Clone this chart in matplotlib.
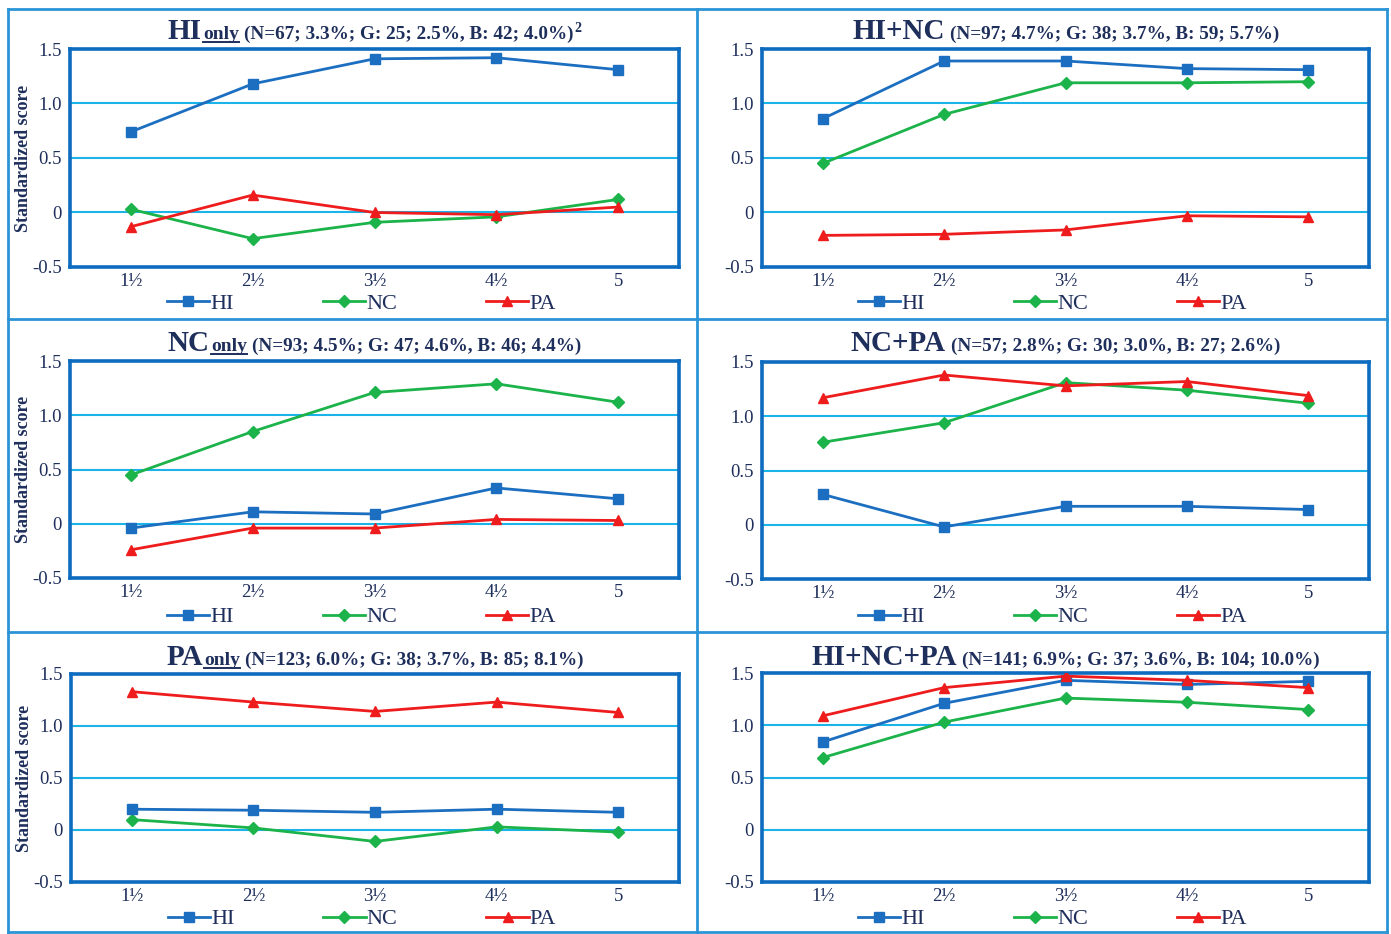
import matplotlib
matplotlib.use("Agg")
import matplotlib.pyplot as plt
from matplotlib.lines import Line2D

# ---------------- data ----------------
categories = ["1½", "2½", "3½", "4½", "5"]
series_names = ["HI", "NC", "PA"]

hi_only_HI = [0.74, 1.18, 1.41, 1.42, 1.31]
hi_only_NC = [0.03, -0.24, -0.09, -0.04, 0.12]
hi_only_PA = [-0.13, 0.16, 0.00, -0.02, 0.05]

hi_nc_HI = [0.86, 1.39, 1.39, 1.32, 1.31]
hi_nc_NC = [0.45, 0.90, 1.19, 1.19, 1.20]
hi_nc_PA = [-0.21, -0.20, -0.16, -0.03, -0.04]

nc_only_HI = [-0.04, 0.11, 0.09, 0.33, 0.23]
nc_only_NC = [0.45, 0.85, 1.21, 1.29, 1.12]
nc_only_PA = [-0.24, -0.04, -0.04, 0.04, 0.03]

nc_pa_HI = [0.28, -0.02, 0.17, 0.17, 0.14]
nc_pa_NC = [0.76, 0.94, 1.31, 1.24, 1.12]
nc_pa_PA = [1.17, 1.38, 1.28, 1.32, 1.19]

pa_only_HI = [0.20, 0.19, 0.17, 0.20, 0.17]
pa_only_NC = [0.10, 0.02, -0.11, 0.03, -0.02]
pa_only_PA = [1.33, 1.23, 1.14, 1.23, 1.13]

all_HI = [0.84, 1.21, 1.43, 1.39, 1.42]
all_NC = [0.69, 1.03, 1.26, 1.22, 1.15]
all_PA = [1.09, 1.36, 1.47, 1.43, 1.36]

titles_main = ["HI", "HI+NC", "NC", "NC+PA", "PA", "HI+NC+PA"]
titles_only = [True, False, True, False, True, False]
titles_info = ["(N=67; 3.3%; G: 25; 2.5%, B: 42; 4.0%)",
               "(N=97; 4.7%; G: 38; 3.7%, B: 59; 5.7%)",
               "(N=93; 4.5%; G: 47; 4.6%, B: 46; 4.4%)",
               "(N=57; 2.8%; G: 30; 3.0%, B: 27; 2.6%)",
               "(N=123; 6.0%; G: 38; 3.7%, B: 85; 8.1%)",
               "(N=141; 6.9%; G: 37; 3.6%, B: 104; 10.0%)"]
titles_sup = ["2", "", "", "", "", ""]
yticks = [-0.5, 0, 0.5, 1.0, 1.5]
ytick_labels = ["-0.5", "0", "0.5", "1.0", "1.5"]

panels = [
    (hi_only_HI, hi_only_NC, hi_only_PA),
    (hi_nc_HI, hi_nc_NC, hi_nc_PA),
    (nc_only_HI, nc_only_NC, nc_only_PA),
    (nc_pa_HI, nc_pa_NC, nc_pa_PA),
    (pa_only_HI, pa_only_NC, pa_only_PA),
    (all_HI, all_NC, all_PA),
]

# ---------------- style ----------------
W, H = 1391, 934
C_HI = "#1c6fc0"
C_NC = "#1bb34a"
C_PA = "#ee1c1c"
C_GRID = "#1ab4e8"
C_FRAME = "#0d6cbf"
C_BORDER = "#2b94d6"
C_TEXT = "#1f2f5c"
FONT = "Liberation Serif"
plt.rcParams["font.family"] = FONT

fig = plt.figure(figsize=(W / 100, H / 100), dpi=100)

# axes boxes in pixels (left, top, right, bottom)
boxes = [
    (70, 49, 679, 267),
    (762, 49, 1369, 267),
    (70, 361, 679, 578),
    (762, 362, 1369, 579),
    (71, 674, 679, 882),
    (762, 673, 1369, 882),
]
title_y = [39, 39, 351, 351, 665, 665]
legend_y = [304, 304, 617, 617, 919, 919]
legend_shift = -13

# panel borders
border_kw = dict(color=C_BORDER, lw=2.0, transform=fig.transFigure)
for xp in [8, 697, 1387]:
    fig.add_artist(Line2D([xp / W, xp / W], [1 - 9 / H, 1 - 933 / H], **border_kw))
for yp in [9, 319, 632, 932]:
    fig.add_artist(Line2D([8 / W, 1387 / W], [1 - yp / H, 1 - yp / H], **border_kw))

renderer = fig.canvas.get_renderer()


def draw_title(xc, yb, parts):
    texts = []
    for txt, size, under, dy, gap in parts:
        t = fig.text(0, 0, txt, fontsize=size, fontweight="bold", color=C_TEXT,
                     va="baseline", ha="left", family=FONT)
        texts.append((t, under, dy, gap))
    widths = [t.get_window_extent(renderer).width for t, _, _, _ in texts]
    total = sum(widths) + sum(p[3] for p in texts[1:])
    x = xc - total / 2
    for k, ((t, under, dy, gap), w) in enumerate(zip(texts, widths)):
        if k > 0:
            x += gap
        t.set_position((x / W, 1 - (yb - dy) / H))
        if under:
            uy = 1 - (yb + 3) / H
            fig.add_artist(Line2D([x / W, (x + w) / W], [uy, uy], color=C_TEXT,
                                  lw=1.4, transform=fig.transFigure))
        x += w


xs = list(range(len(categories)))
for i, (box, data) in enumerate(zip(boxes, panels)):
    l, t, r, b = box
    ax = fig.add_axes([l / W, 1 - b / H, (r - l) / W, (b - t) / H])
    hi, nc, pa = data
    ax.plot(xs, hi, color=C_HI, lw=2.0, marker="s", ms=7, label="HI", zorder=4)
    ax.plot(xs, nc, color=C_NC, lw=2.0, marker="D", ms=6, label="NC", zorder=3)
    ax.plot(xs, pa, color=C_PA, lw=2.0, marker="^", ms=7, label="PA", zorder=5)
    ax.set_xlim(-0.5, len(categories) - 0.5)
    ax.set_ylim(-0.5, 1.5)
    ax.set_yticks(yticks)
    ax.set_yticklabels(ytick_labels)
    ax.set_xticks(xs)
    ax.set_xticklabels(categories)
    ax.tick_params(length=0, labelsize=13.5, labelcolor=C_TEXT, pad=4)
    ax.tick_params(axis="y", pad=6)
    for lab in ax.get_xticklabels() + ax.get_yticklabels():
        lab.set_family(FONT)
    for yv in [0, 0.5, 1.0]:
        ax.axhline(yv, color=C_GRID, lw=1.5, zorder=1)
    for s in ax.spines.values():
        s.set_color(C_FRAME)
        s.set_linewidth(2.6)
    if i % 2 == 0:
        ax.set_ylabel("Standardized score", fontsize=13, fontweight="bold",
                      color=C_TEXT, labelpad=0, family=FONT)
    # legend
    anchor_x = 0.5 + legend_shift / (r - l)
    leg = ax.legend(loc="center", bbox_to_anchor=(anchor_x, 1 - (legend_y[i] - t) / (b - t)),
                    ncol=3, frameon=False, fontsize=16, handlelength=1.9,
                    handletextpad=0.05, columnspacing=4.0, borderaxespad=0)
    for txt in leg.get_texts():
        txt.set_color(C_TEXT)
        txt.set_family(FONT)
    # title
    xc = (l + r) / 2
    parts = [(titles_main[i], 21, False, 0, 0)]
    if titles_only[i]:
        parts.append(("only", 14, True, 0, 1))
    parts.append((titles_info[i], 13.8, False, 0, 5))
    if titles_sup[i]:
        parts.append((titles_sup[i], 10, False, 7, 1))
    draw_title(xc, title_y[i], parts)

fig.savefig("out.png", dpi=100, facecolor="white")
